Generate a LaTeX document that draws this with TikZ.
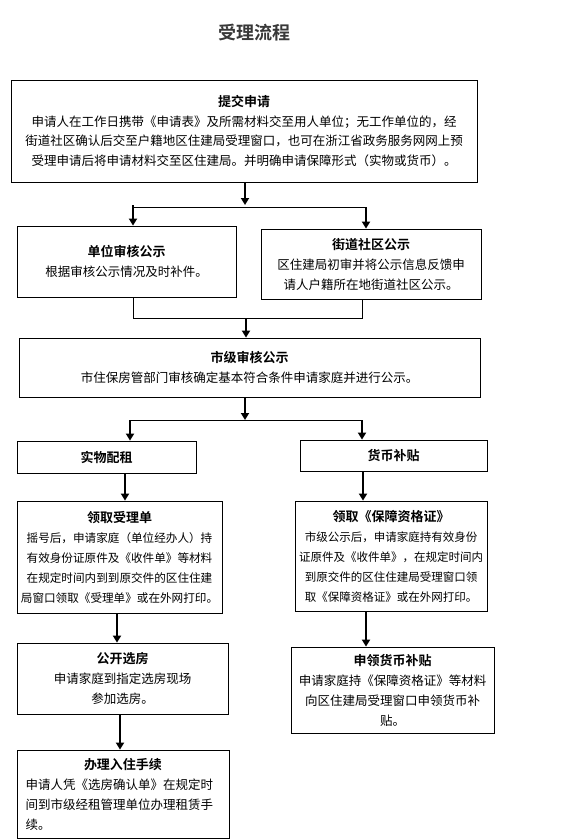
\documentclass[tikz,border=0pt]{standalone}
\usepackage{fontspec}
\newfontfamily\cjk{Noto Sans CJK SC}[BoldFont={Noto Sans CJK SC Bold}]
\usetikzlibrary{arrows.meta}

\newcommand{\hd}[1]{{\fontsize{13}{20}\selectfont\bfseries #1}}

\tikzset{
  box/.style={draw, line width=0.8pt, inner sep=0pt, align=center,
    font=\cjk\fontsize{12.5}{20}\selectfont},
  arr/.style={-{Triangle[width=8pt,length=7pt]}, line width=2.4pt},
  link/.style={line width=0.8pt}
}

\begin{document}
\begin{tikzpicture}[x=1pt, y=-1pt]
\useasboundingbox (0,0) rectangle (573,840);

\node[font=\cjk\fontsize{18}{20}\selectfont\bfseries, text=black!78] (title) at (254,33) {受理流程};

% first step
\node[box, minimum width=466pt, minimum height=102pt, font=\cjk\fontsize{12.5}{19.5}\selectfont] (submit) at (244,131)
  {\hd{提交申请}\\
   申请人在工作日携带《申请表》及所需材料交至用人单位；无工作单位的，经\\
   街道社区确认后交至户籍地区住建局受理窗口，也可在浙江省政务服务网网上预\\
   受理申请后将申请材料交至区住建局。并明确申请保障形式（实物或货币）。};

% public notice
\node[box, minimum width=219pt, minimum height=71pt] (unit) at (126.5,261.5)
  {\hd{单位审核公示}\\ 根据审核公示情况及时补件。};
\node[box, minimum width=220pt, minimum height=70pt] (street) at (371,264)
  {\hd{街道社区公示}\\ 区住建局初审并将公示信息反馈申\\ 请人户籍所在地街道社区公示。};
\node[box, minimum width=461pt, minimum height=59pt] (city) at (249.5,367.5)
  {\hd{市级审核公示}\\ 市住保房管部门审核确定基本符合条件申请家庭并进行公示。};

% two forms
\node[box, minimum width=179pt, minimum height=32pt] (inkind) at (106.5,457) {\hd{实物配租}};
\node[box, minimum width=187pt, minimum height=31pt] (cash) at (393.5,455.5) {\hd{货币补贴}};

\node[box, minimum width=205pt, minimum height=112pt, font=\cjk\fontsize{11.6}{20}\selectfont] (receipt) at (119.5,557)
  {\hd{领取受理单}\\ 摇号后，申请家庭（单位经办人）持\\ 有效身份证原件及《收件单》等材料\\
   在规定时间内到到原交件的区住住建\\ 局窗口领取《受理单》或在外网打印。};
\node[box, minimum width=192pt, minimum height=110pt, font=\cjk\fontsize{11.5}{20}\selectfont] (cert) at (391,556)
  {\hd{领取《保障资格证》}\\ 市级公示后，申请家庭持有效身份\\ 证原件及《收件单》，在规定时间内\\
   到原交件的区住住建局受理窗口领\\ 取《保障资格证》或在外网打印。};

\node[box, minimum width=211pt, minimum height=71pt] (select) at (122.5,678.5)
  {\hd{公开选房}\\ 申请家庭到指定选房现场\\ 参加选房。};
\node[box, minimum width=203pt, minimum height=86pt] (apply) at (392.5,690)
  {\hd{申领货币补贴}\\ 申请家庭持《保障资格证》等材料\\ 向区住建局受理窗口申领货币补\\ 贴。};
\node[box, align=left, text width=195pt, minimum width=212pt, minimum height=88pt] (checkin) at (123,794)
  {\makebox[195pt]{\hd{办理入住手续}}\\ 申请人凭《选房确认单》在规定时\\ 间到市级经租管理单位办理租赁手\\ 续。};

% branch and merge points
\coordinate (s1) at (245,207);
\coordinate (s1l) at (133,207);
\coordinate (s1r) at (366,207);
\coordinate (m1) at (246,318);
\coordinate (m1l) at (133,318);
\coordinate (m1r) at (362,318);
\coordinate (s2) at (245,420);
\coordinate (s2l) at (130,420);
\coordinate (s2r) at (362,420);
\coordinate (ka) at (125,0);
\coordinate (kb) at (363,0);
\coordinate (kc) at (117,0);
\coordinate (kd) at (366,0);
\coordinate (ke) at (120,0);

\draw[arr, shorten >=2pt] (submit.south -| s1) -- (s1);
\draw[link] (s1l) -- (s1r);
\draw[arr] ([yshift=2pt]s1l) -- (s1l |- unit.north);
\draw[arr] (s1r) -- (s1r |- street.north);

\draw[link] (unit.south -| m1l) -- (m1l) -- (m1r) -- (street.south -| m1r);
\draw[arr] (m1) -- (m1 |- city.north);

\draw[arr] (city.south -| s2) -- (s2);
\draw[link] (s2l) -- (s2r);
\draw[arr] (s2l) -- (s2l |- inkind.north);
\draw[arr] (s2r) -- (s2r |- cash.north);

\draw[arr] (inkind.south -| ka) -- (receipt.north -| ka);
\draw[arr] (cash.south -| kb) -- (cert.north -| kb);
\draw[arr] (receipt.south -| kc) -- (select.north -| kc);
\draw[arr] (cert.south -| kd) -- (apply.north -| kd);
\draw[arr] (select.south -| ke) -- (checkin.north -| ke);
\end{tikzpicture}
\end{document}
